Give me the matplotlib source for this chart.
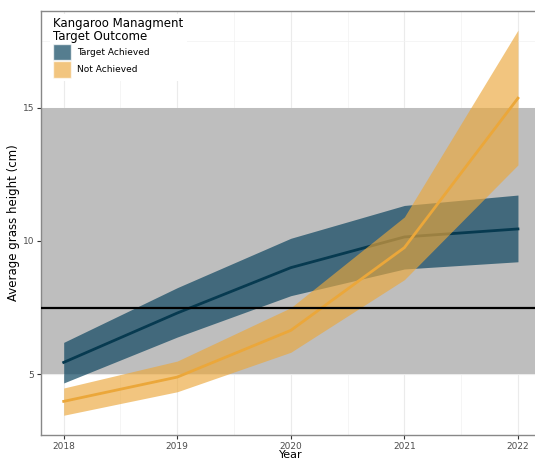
import matplotlib.pyplot as plt
from matplotlib.patches import Patch
from matplotlib.ticker import MultipleLocator

years = [2018, 2019, 2020, 2021, 2022]

achieved_mean = [5.45, 7.3, 9.0, 10.15, 10.45]
achieved_low = [4.68, 6.4, 7.95, 8.95, 9.22]
achieved_high = [6.2, 8.25, 10.1, 11.33, 11.72]

not_achieved_mean = [3.99, 4.9, 6.65, 9.75, 15.35]
not_achieved_low = [3.47, 4.35, 5.83, 8.55, 12.85]
not_achieved_high = [4.49, 5.5, 7.5, 10.9, 17.9]

target_range = [5, 15]
target_line = 7.5

blue_fill = '#0d4660'
blue_line = '#073a50'
orange = '#eba73a'

fig = plt.figure(figsize=(5.35, 4.61), dpi=100)
ax = fig.add_axes([0.0766, 0.0564, 0.934, 0.92])

ax.axhspan(target_range[0], target_range[1], color='#bebebe', zorder=1, lw=0)

ax.fill_between(years, achieved_low, achieved_high, color=blue_fill, alpha=0.7, lw=0, zorder=2)
ax.plot(years, achieved_mean, color=blue_line, lw=2, zorder=3)
ax.fill_between(years, not_achieved_low, not_achieved_high, color=orange, alpha=0.65, lw=0, zorder=4)
ax.plot(years, not_achieved_mean, color=orange, lw=2, zorder=5)

ax.axhline(target_line, color='black', lw=1.6, zorder=6)

ax.set_xlim(2017.8, 2022.2)
ax.set_ylim(2.73, 18.62)
ax.set_xticks(years)
ax.set_yticks([5, 10, 15])
ax.xaxis.set_minor_locator(MultipleLocator(0.5))
ax.yaxis.set_minor_locator(MultipleLocator(2.5))
ax.tick_params(which='minor', length=0)
ax.tick_params(which='major', length=3, pad=2, color='#333333', labelsize=6.5, labelcolor='#4d4d4d')
ax.grid(which='major', color='#ebebeb', lw=0.8, zorder=0)
ax.grid(which='minor', color='#f2f2f2', lw=0.5, zorder=0)
ax.set_axisbelow(True)
for side in ax.spines.values():
    side.set_color('#888888')
    side.set_linewidth(1.0)

ax.set_xlabel('Year', fontsize=8, labelpad=-1)
ax.set_ylabel('Average grass height (cm)', fontsize=8.5, labelpad=2)

handles = [
    Patch(facecolor=blue_fill, alpha=0.7, edgecolor='white', label='Target Achieved'),
    Patch(facecolor=orange, alpha=0.65, edgecolor='white', label='Not Achieved'),
]
leg = ax.legend(handles=handles, title='Kangaroo Managment\nTarget Outcome',
                loc='upper left', bbox_to_anchor=(0.012, 1.0), fontsize=6.5,
                title_fontsize=8.5, frameon=True, facecolor='white', edgecolor='none',
                framealpha=1, handlelength=2.0, handleheight=2.4, labelspacing=0.1,
                borderaxespad=0.3, handletextpad=0.6)
leg._legend_box.align = 'left'
leg.get_title().set_linespacing(1.0)
leg.set_zorder(10)

fig.savefig('out.png', dpi=100)
